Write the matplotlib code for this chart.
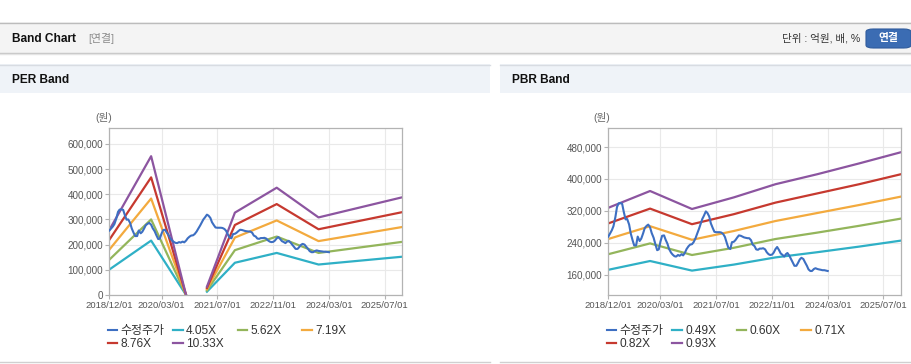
import matplotlib
matplotlib.use('Agg')
import matplotlib.pyplot as plt
import matplotlib.dates as mdates
from matplotlib.patches import Rectangle, FancyBboxPatch
from matplotlib.lines import Line2D
from matplotlib.ticker import FuncFormatter, FixedLocator
import numpy as np
import pandas as pd

plt.rcParams['font.family'] = ['Liberation Sans', 'Noto Sans CJK KR', 'DejaVu Sans']

W, H = 912, 364

# ---------------- data ----------------
price_label = '수정주가'
price_start = '2018-12-01'
# adjusted price (thousand won), semi-monthly from 2018/12/01
price_k = [
    256, 263, 272, 282, 305, 330, 339, 340, 338, 318,
    299, 300, 286, 264, 247, 234, 234, 256, 245, 251,
    264, 277, 283, 286, 279, 265, 253, 238, 222, 224,
    244, 258, 259, 248, 238, 225, 216, 211, 207, 206,
    210, 208, 212, 209, 216, 225, 232, 236, 237, 242,
    252, 263, 276, 288, 300, 308, 319, 315, 306, 289,
    277, 268, 267, 267, 267, 266, 262, 255, 240, 228,
    225, 242, 243, 247, 254, 259, 258, 256, 254, 253,
    252, 252, 247, 236, 232, 224, 223, 226, 226, 227,
    224, 217, 212, 210, 211, 216, 225, 230, 222, 214,
    210, 206, 212, 215, 208, 200, 191, 183, 183, 190,
    199, 203, 200, 192, 183, 174, 170, 170, 175, 177,
    175, 174, 173, 172, 172, 171, 170,
]

per_dates = ['2018-12-01', '2019-12-01', '2020-10-01', '2021-01-01', '2021-04-01',
             '2021-12-01', '2022-12-01', '2023-12-01', '2025-12-01']
per_labels = ['4.05X', '5.62X', '7.19X', '8.76X', '10.33X']
nan = np.nan
per_405 = [101, 216, 0, nan, 13, 128, 167, 121, 152]
per_562 = [140, 300, 0, nan, 18, 178, 232, 167, 211]
per_719 = [180, 383, 0, nan, 23, 228, 296, 214, 270]
per_876 = [219, 467, 0, nan, 28, 278, 361, 261, 329]
per_1033 = [258, 551, 0, nan, 33, 327, 426, 308, 388]

pbr_dates = ['2018-12-01', '2019-12-01', '2020-12-01', '2021-12-01',
             '2022-12-01', '2023-12-01', '2024-12-01', '2025-12-01']
pbr_labels = ['0.49X', '0.60X', '0.71X', '0.82X', '0.93X']
pbr_049 = [173, 195, 171, 186, 204, 217, 231, 246]
pbr_060 = [212, 239, 210, 228, 250, 266, 283, 301]
pbr_071 = [250, 282, 248, 270, 295, 315, 335, 356]
pbr_082 = [289, 326, 287, 312, 341, 364, 387, 412]
pbr_093 = [328, 370, 325, 354, 387, 412, 439, 467]

x_ticks = ['2018-12-01', '2020-03-01', '2021-07-01', '2022-11-01', '2024-03-01', '2025-07-01']
x_range = ['2018-12-01', '2025-12-01']
per_yticks = [0, 100000, 200000, 300000, 400000, 500000, 600000]
pbr_yticks = [160000, 240000, 320000, 400000, 480000]

colors = {'price': '#3d6fc2', 'b1': '#2fb0c6', 'b2': '#93b55b', 'b3': '#f3aa3e',
          'b4': '#c6392f', 'b5': '#8c55a0'}

# ---------------- figure ----------------
fig = plt.figure(figsize=(W / 100, H / 100), dpi=100)
fig.patch.set_facecolor('white')


def fx(x):
    return x / W


def fy(y):
    return 1 - y / H


def rect(x0, y0, x1, y1, color, z=0):
    fig.patches.append(Rectangle((fx(x0), fy(y1)), fx(x1) - fx(x0), fy(y0) - fy(y1),
                                 transform=fig.transFigure, facecolor=color,
                                 edgecolor='none', zorder=z))


def hline(x0, x1, y, color, lw=1.0):
    fig.add_artist(Line2D([fx(x0), fx(x1)], [fy(y), fy(y)], transform=fig.transFigure,
                          color=color, lw=lw))


# top header
rect(0, 22, W, 53, '#f4f4f4')
hline(0, W, 22.5, '#bcbcbc')
hline(0, W, 53, '#c4c4c4')
hline(0, W, 54, '#e4e4e4')
fig.text(fx(12), fy(38.5), 'Band Chart', fontsize=8.6, fontweight='bold', color='#111111',
         va='center', ha='left')
fig.text(fx(88), fy(38.5), '[연결]', fontsize=7.8, color='#8a8a8a', va='center', ha='left')
fig.text(fx(860), fy(38.5), '단위 : 억원, 배, %', fontsize=7.6, color='#333333',
         va='center', ha='right')
btn = FancyBboxPatch((fx(866), fy(48)), fx(911) - fx(866), fy(29) - fy(48),
                     boxstyle='round,pad=0,rounding_size=0.008', transform=fig.transFigure,
                     facecolor='#3b6cb3', edgecolor='#2f5b9c', lw=0.8)
fig.patches.append(btn)
fig.text(fx(888.5), fy(38.5), '연결', fontsize=7.8, fontweight='bold', color='white',
         va='center', ha='center')

# panel headers
for (x0, x1, title) in [(0, 490, 'PER Band'), (500, W, 'PBR Band')]:
    rect(x0, 64, x1, 93, '#eff3f8')
    hline(x0, x1, 64.5, '#d8dce2')
    hline(x0, x1, 362, '#d0d0d0')
    fig.text(fx(x0 + 12), fy(80), title, fontsize=8.6, fontweight='bold', color='#111111',
             va='center', ha='left')


def setup_axes(left, right, top, bottom):
    ax = fig.add_axes([fx(left), fy(bottom), fx(right) - fx(left), fy(top) - fy(bottom)])
    ax.set_facecolor('white')
    for s in ax.spines.values():
        s.set_color('#b3b3b3')
        s.set_linewidth(0.9)
    ax.grid(True, color='#e9e9e9', lw=0.8)
    ax.set_axisbelow(True)
    ax.tick_params(axis='both', colors='#b3b3b3', labelcolor='#555555', length=3,
                   width=0.8, labelsize=6.8, pad=1.5)
    ax.tick_params(axis='y', labelsize=7.1)
    ax.set_xlim(pd.to_datetime(x_range[0]), pd.to_datetime(x_range[1]))
    ax.xaxis.set_major_locator(FixedLocator(mdates.date2num(pd.to_datetime(x_ticks))))
    ax.xaxis.set_major_formatter(mdates.DateFormatter('%Y/%m/%d'))
    ax.yaxis.set_major_formatter(FuncFormatter(lambda v, p: f'{v:,.0f}'))
    return ax


price_dates = pd.date_range(price_start, periods=len(price_k), freq='SMS')
price = np.array(price_k) * 1000


def draw_panel(ax, band_dates, bands, labels):
    d = pd.to_datetime(band_dates)
    handles = []
    h, = ax.plot(price_dates, price, color=colors['price'], lw=1.5, zorder=3)
    handles.append((h, price_label))
    for i, (vals, lab) in enumerate(zip(bands, labels)):
        hh, = ax.plot(d, np.array(vals, dtype=float) * 1000, color=colors['b%d' % (i + 1)],
                      lw=1.6, zorder=2)
        handles.append((hh, lab))
    return handles


# PER
ax1 = setup_axes(109.3, 402.3, 128, 295)
ax1.set_ylim(0, 663000)
ax1.yaxis.set_major_locator(FixedLocator(per_yticks))
h1 = draw_panel(ax1, per_dates, [per_405, per_562, per_719, per_876, per_1033], per_labels)

# PBR
ax2 = setup_axes(608.3, 901, 128, 295)
ax2.set_ylim(110000, 527500)
ax2.yaxis.set_major_locator(FixedLocator(pbr_yticks))
h2 = draw_panel(ax2, pbr_dates, [pbr_049, pbr_060, pbr_071, pbr_082, pbr_093], pbr_labels)

# unit labels
fig.text(fx(95), fy(118), '(원)', fontsize=7.6, color='#666666', va='center', ha='left')
fig.text(fx(593), fy(118), '(원)', fontsize=7.6, color='#666666', va='center', ha='left')


def legends(handles, x0):
    offs = [0, 65.3, 130, 194.3]
    for i, (h, lab) in enumerate(handles):
        col = i % 4
        row = i // 4
        x = x0 + offs[col]
        y = 330.7 + row * 13.5
        lg = fig.legend([h], [lab], loc='center left',
                        bbox_to_anchor=(fx(x), fy(y)), bbox_transform=fig.transFigure,
                        frameon=False, fontsize=8.6, handlelength=0.8,
                        handletextpad=0.3, borderpad=0, borderaxespad=0)
        for t in lg.get_texts():
            t.set_color('#333333')


legends(h1, 107.7)
legends(h2, 606.7)

fig.savefig('out.png', dpi=100)
